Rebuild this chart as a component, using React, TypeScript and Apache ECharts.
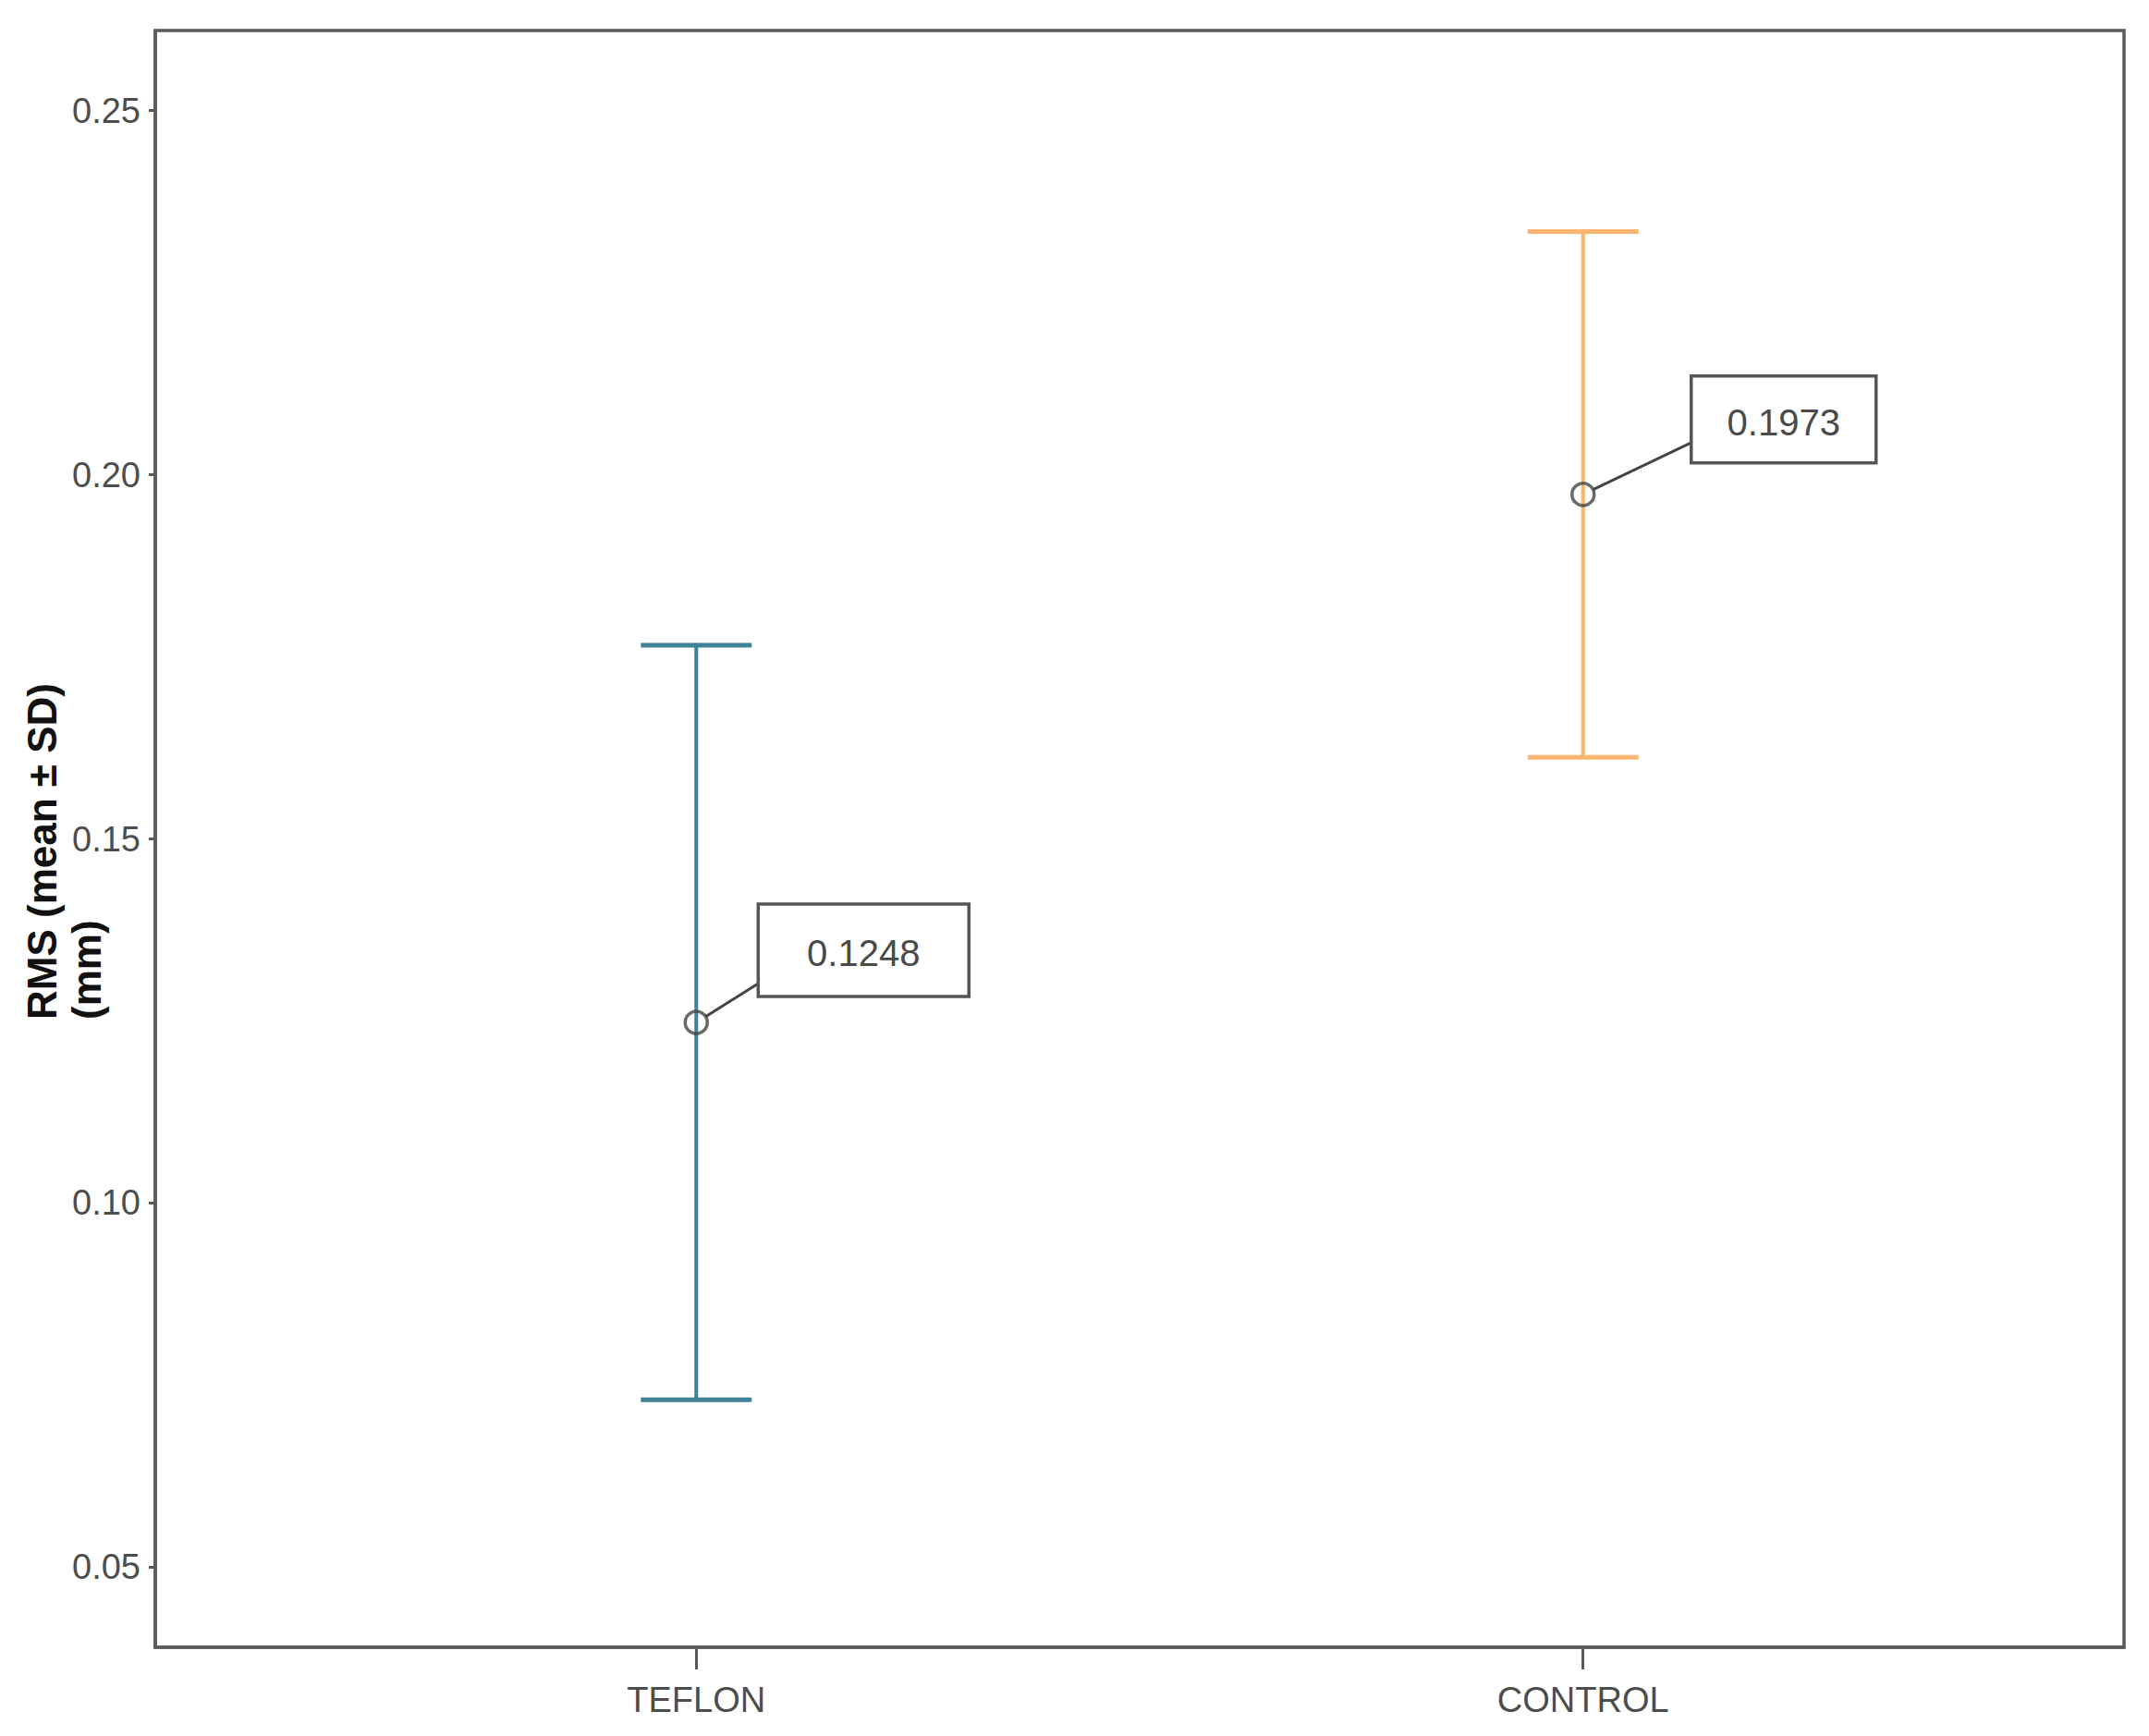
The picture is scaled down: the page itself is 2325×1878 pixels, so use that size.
import React, { useEffect, useRef } from "react";
import * as echarts from "echarts";

const categories = ["TEFLON", "CONTROL"];
const categoryPositions = [1, 2];
const means = [0.1248, 0.1973];
const sds = [0.0518, 0.0361];
const meanLabels = ["0.1248", "0.1973"];
const yTicks = [0.05, 0.1, 0.15, 0.2, 0.25];
const barColors = ["#3f8198", "#fdb46e"];

// label box placement relative to the point (pixels): box left/top, box size, leader end
const labelLayouts = [
  { bx: 67, by: -128, w: 228, h: 100, lx: 67, ly: -42 },
  { bx: 117, by: -128, w: 200, h: 94, lx: 117, ly: -56 },
];

const FONT = "'Liberation Sans', Arial, Helvetica, sans-serif";
const FRAME = "#5a5a5a";

export default function App() {
  const ref = useRef<HTMLDivElement>(null);

  useEffect(() => {
    if (!ref.current) return;
    const chart = echarts.init(ref.current, null, { renderer: "svg" });

    const errData = categoryPositions.map((x, i) => [x, means[i] - sds[i], means[i] + sds[i]]);
    const ptData = categoryPositions.map((x, i) => [x, means[i]]);
    const capHalf = 0.0625;

    const option: any = {
      animation: false,
      backgroundColor: "#ffffff",
      grid: {
        left: 168,
        top: 33,
        right: 27,
        bottom: 96,
        show: true,
        borderColor: FRAME,
        borderWidth: 3.5,
        backgroundColor: "transparent",
      },
      xAxis: {
        type: "value",
        min: 0.39,
        max: 2.61,
        splitLine: { show: false },
        axisLine: { show: true, lineStyle: { color: FRAME, width: 3.5 } },
        axisTick: {
          show: true,
          length: 24,
          customValues: categoryPositions,
          lineStyle: { color: FRAME, width: 3 },
        },
        axisLabel: {
          customValues: categoryPositions,
          formatter: (v: number) => {
            const idx = categoryPositions.indexOf(Math.round(v));
            return idx >= 0 ? categories[idx] : "";
          },
          color: "#4d4d4d",
          fontSize: 38,
          fontFamily: FONT,
          margin: 38,
        },
      },
      yAxis: {
        type: "value",
        min: 0.039,
        max: 0.261,
        splitLine: { show: false },
        axisLine: { show: true, lineStyle: { color: FRAME, width: 3.5 } },
        axisTick: {
          show: true,
          length: 7,
          customValues: yTicks,
          lineStyle: { color: FRAME, width: 3 },
        },
        axisLabel: {
          customValues: yTicks,
          formatter: (v: number) => v.toFixed(2),
          color: "#4d4d4d",
          fontSize: 38,
          fontFamily: FONT,
          margin: 16,
        },
      },
      graphic: [
        {
          type: "text",
          x: 21,
          y: 1103,
          rotation: Math.PI / 2,
          style: {
            text: "RMS (mean ± SD)\n(mm)",
            fontSize: 44,
            fontWeight: "bold",
            fontFamily: FONT,
            fill: "#111111",
            align: "left",
            verticalAlign: "top",
            lineHeight: 48,
          },
        },
      ],
      series: [
        {
          type: "custom",
          name: "sd",
          data: errData,
          z: 2,
          renderItem: (params: any, api: any) => {
            const x = api.value(0);
            const lo = api.value(1);
            const hi = api.value(2);
            const top = api.coord([x, hi]);
            const bot = api.coord([x, lo]);
            const l = api.coord([x - capHalf, hi])[0];
            const r = api.coord([x + capHalf, hi])[0];
            const color = barColors[params.dataIndex];
            return {
              type: "group",
              children: [
                {
                  type: "line",
                  shape: { x1: top[0], y1: top[1], x2: bot[0], y2: bot[1] },
                  style: { stroke: color, lineWidth: 4 },
                },
                {
                  type: "line",
                  shape: { x1: l, y1: top[1], x2: r, y2: top[1] },
                  style: { stroke: color, lineWidth: 5 },
                },
                {
                  type: "line",
                  shape: { x1: l, y1: bot[1], x2: r, y2: bot[1] },
                  style: { stroke: color, lineWidth: 5 },
                },
              ],
            };
          },
        },
        {
          type: "scatter",
          name: "mean",
          data: ptData,
          z: 3,
          symbol: "circle",
          symbolSize: 24,
          itemStyle: { color: "rgba(0,0,0,0)", borderColor: "#444444", borderWidth: 3.5 },
        },
        {
          type: "custom",
          name: "labels",
          data: ptData,
          z: 4,
          renderItem: (params: any, api: any) => {
            const i = params.dataIndex;
            const p = api.coord([api.value(0), api.value(1)]);
            const L = labelLayouts[i];
            const ex = p[0] + L.lx;
            const ey = p[1] + L.ly;
            const dx = ex - p[0];
            const dy = ey - p[1];
            const d = Math.sqrt(dx * dx + dy * dy);
            const sx = p[0] + (dx / d) * 12;
            const sy = p[1] + (dy / d) * 12;
            return {
              type: "group",
              children: [
                {
                  type: "line",
                  shape: { x1: sx, y1: sy, x2: ex, y2: ey },
                  style: { stroke: "#444444", lineWidth: 3 },
                },
                {
                  type: "rect",
                  shape: { x: p[0] + L.bx, y: p[1] + L.by, width: L.w, height: L.h },
                  style: { fill: "#ffffff", stroke: "#555555", lineWidth: 3.5 },
                },
                {
                  type: "text",
                  x: p[0] + L.bx + L.w / 2,
                  y: p[1] + L.by + L.h / 2 + 3,
                  style: {
                    text: meanLabels[i],
                    fontSize: 40,
                    fontFamily: FONT,
                    fill: "#4a4a4a",
                    align: "center",
                    verticalAlign: "middle",
                  },
                },
              ],
            };
          },
        },
      ],
    };

    chart.setOption(option);
    return () => chart.dispose();
  }, []);

  return (
    <div
      ref={ref}
      style={{ position: "fixed", left: 0, top: 0, width: 2325, height: 1878, background: "#fff" }}
    />
  );
}
